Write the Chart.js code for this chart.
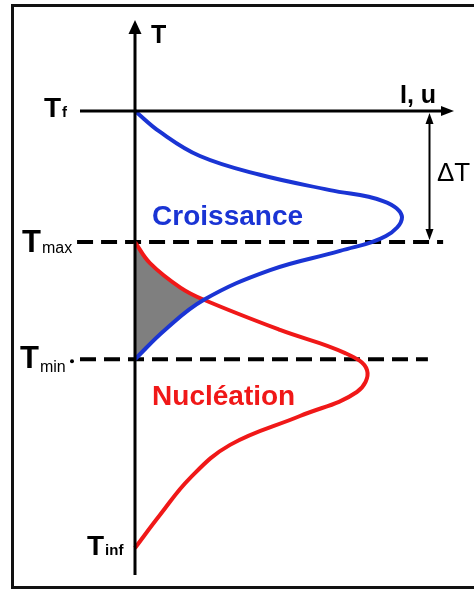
<!DOCTYPE html>
<html>
<head>
<meta charset="utf-8">
<script src="https://cdn.jsdelivr.net/npm/chart.js@4.4.1/dist/chart.umd.min.js"></script>
<style>
  html, body { margin: 0; padding: 0; background: #fff; }
  canvas { display: block; }
</style>
</head>
<body>
<canvas id="diagramme" width="474" height="589"></canvas>
<script>
// niveaux de température (T) : Tf, Tmax, Tmin, Tinf
var niveauxNoms = ['f', 'max', 'min', 'inf'];
var niveauxT = [100, 70, 43.2, 0];

// vitesse de croissance u(T)
var croissanceU = [0, 9.4, 24.3, 46.8, 73.0, 92.9, 100, 94.0, 76.8, 50.6, 25.8, 11.2, 0];
var croissanceT = [100, 95.2, 89.7, 85.4, 81.9, 79.4, 75.7, 71.4, 68.0, 63.6, 56.8, 49.9, 43.2];

// vitesse de nucléation I(T)
var nucleationI = [0, 5.6, 17.0, 25.8, 54.3, 78.7, 86.9, 83.1, 61.8, 35.6, 20.6, 9.4, 0];
var nucleationT = [70.0, 65.2, 59.6, 56.8, 49.9, 44.6, 40.7, 35.7, 30.2, 23.6, 16.0, 7.6, 0];

var BLEU = '#1a34d4';
var ROUGE = '#f01818';

function points(xs, ys) {
    var p = [];
    for (var i = 0; i < xs.length; i++) p.push({x: xs[i], y: ys[i]});
    return p;
}

var courbeCroissance = points(croissanceU, croissanceT);
var courbeNucleation = points(nucleationI, nucleationT);

// zone grisée : entre l'axe, la nucléation (jusqu'au croisement) et la croissance
// (le point de croisement est doublé pour garder la pointe)
var iCroisN = 3, iCroisC = 10;
var zone = courbeNucleation.slice(0, iCroisN + 1).concat(courbeCroissance.slice(iCroisC));

function tirets(x1, x2, t) {
    return {
        data: [{x: x1, y: t}, {x: x2, y: t}],
        showLine: true, borderColor: '#000', borderWidth: 4,
        borderDash: [16, 8], borderCapStyle: 'butt',
        pointRadius: 0, clip: false, order: 3
    };
}

function texte(ctx, s, x, y, font, color) {
    ctx.font = font;
    ctx.fillStyle = color || '#000';
    ctx.fillText(s, x, y);
    return x + ctx.measureText(s).width;
}

function fleche(ctx, x, y, dx, dy, l, w) {
    // pointe de flèche en (x, y), direction (dx, dy)
    ctx.beginPath();
    ctx.moveTo(x, y);
    ctx.lineTo(x - dx * l - dy * w / 2, y - dy * l + dx * w / 2);
    ctx.lineTo(x - dx * l + dy * w / 2, y - dy * l - dx * w / 2);
    ctx.closePath();
    ctx.fill();
}

var habillage = {
    id: 'habillage',
    beforeDraw: function (chart) {
        var ctx = chart.ctx;
        ctx.save();
        ctx.fillStyle = '#fff';
        ctx.fillRect(0, 0, chart.width, chart.height);
        ctx.strokeStyle = '#111';
        ctx.lineWidth = 3;
        ctx.strokeRect(12.5, 5.5, 480, 582);
        ctx.restore();
    },
    afterDatasetsDraw: function (chart) {
        var ctx = chart.ctx, sx = chart.scales.x, sy = chart.scales.y;
        var x0 = Math.round(sx.getPixelForValue(0));
        var yTf = Math.round(sy.getPixelForValue(niveauxT[0]));
        ctx.save();
        ctx.strokeStyle = '#000';
        ctx.fillStyle = '#000';

        // axe T
        ctx.lineWidth = 3;
        ctx.beginPath();
        ctx.moveTo(x0, sy.getPixelForValue(-6.2));
        ctx.lineTo(x0, 32);
        ctx.stroke();
        fleche(ctx, x0, 20, 0, -1, 14, 13);

        // axe I, u
        ctx.beginPath();
        ctx.moveTo(80, yTf);
        ctx.lineTo(443, yTf);
        ctx.stroke();
        fleche(ctx, 454, yTf, 1, 0, 13, 10);

        // ΔT = Tf - Tmax
        var xd = Math.round(sx.getPixelForValue(110.1)) + 0.5;
        var yMax = sy.getPixelForValue(niveauxT[1]);
        ctx.lineWidth = 2;
        ctx.beginPath();
        ctx.moveTo(xd, yTf + 10);
        ctx.lineTo(xd, yMax - 10);
        ctx.stroke();
        fleche(ctx, xd, yTf + 2, 0, -1, 11, 8);
        fleche(ctx, xd, yMax - 2, 0, 1, 11, 8);

        ctx.textBaseline = 'alphabetic';
        texte(ctx, 'T', 151, 43, 'bold 25px "Liberation Sans", Arial, sans-serif');
        texte(ctx, 'I, u', 400, 103, 'bold 25px "Liberation Sans", Arial, sans-serif');
        texte(ctx, '\u0394T', 437, 181, '500 26px "Liberation Sans", Arial, sans-serif');

        // étiquettes des niveaux
        var grand = 'bold 28px "Liberation Sans", Arial, sans-serif';
        var xe = texte(ctx, 'T', 44, yTf + 6, grand);
        texte(ctx, niveauxNoms[0], xe + 1, yTf + 6, 'bold 15px "Liberation Sans", Arial, sans-serif');

        var y1 = sy.getPixelForValue(niveauxT[1]);
        xe = texte(ctx, 'T', 22, y1 + 10, 'bold 31px "Liberation Sans", Arial, sans-serif');
        texte(ctx, niveauxNoms[1], xe + 1, y1 + 11, '16px "Liberation Sans", Arial, sans-serif');

        var y2 = sy.getPixelForValue(niveauxT[2]);
        xe = texte(ctx, 'T', 20, y2 + 9, 'bold 31px "Liberation Sans", Arial, sans-serif');
        texte(ctx, niveauxNoms[2], xe + 1, y2 + 13, '16px "Liberation Sans", Arial, sans-serif');
        ctx.beginPath();
        ctx.arc(72, y2 + 2, 2, 0, 2 * Math.PI);
        ctx.fill();

        var y3 = sy.getPixelForValue(niveauxT[3]);
        xe = texte(ctx, 'T', 87, y3 + 7, grand);
        texte(ctx, niveauxNoms[3], xe + 1, y3 + 7, 'bold 15px "Liberation Sans", Arial, sans-serif');

        // noms des courbes
        ctx.textBaseline = 'middle';
        texte(ctx, 'Croissance', sx.getPixelForValue(6.4), sy.getPixelForValue(75.7),
            'bold 28px "Liberation Sans", Arial, sans-serif', BLEU);
        texte(ctx, 'Nucléation', sx.getPixelForValue(6.4), sy.getPixelForValue(34.6),
            'bold 28px "Liberation Sans", Arial, sans-serif', ROUGE);
        ctx.restore();
    }
};

new Chart(document.getElementById('diagramme'), {
    type: 'scatter',
    data: {
        datasets: [{
            label: 'zone',
            data: zone,
            showLine: true, fill: 'shape',
            backgroundColor: '#7f7f7f', borderWidth: 0,
            tension: 0.4, pointRadius: 0, clip: false, order: 4
        }, {
            label: 'Croissance',
            data: courbeCroissance,
            showLine: true, borderColor: BLEU, borderWidth: 4,
            tension: 0.4, pointRadius: 0, clip: false, order: 1
        }, {
            label: 'Nucléation',
            data: courbeNucleation,
            showLine: true, borderColor: ROUGE, borderWidth: 4,
            tension: 0.4, pointRadius: 0, clip: false, order: 2
        },
        tirets(-21.7, 115.4, niveauxT[1]),
        tirets(-20.6, 109.7, niveauxT[2])]
    },
    options: {
        responsive: false,
        animation: false,
        events: [],
        layout: { padding: { left: 135, right: 72, top: 111, bottom: 41 } },
        scales: {
            x: { type: 'linear', min: 0, max: 100, display: false },
            y: { type: 'linear', min: 0, max: 100, display: false }
        },
        plugins: { legend: { display: false }, tooltip: { enabled: false } }
    },
    plugins: [habillage]
});
</script>
</body>
</html>
